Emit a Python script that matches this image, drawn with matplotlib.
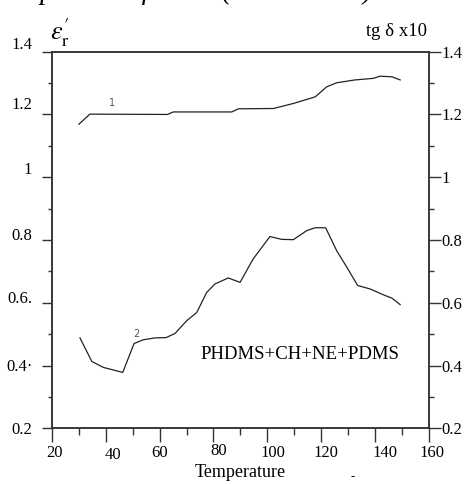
import matplotlib
matplotlib.use("Agg")
import matplotlib.pyplot as plt
import matplotlib.transforms as mtransforms

plt.rcParams['font.family'] = ['Liberation Serif', 'DejaVu Serif']
plt.rcParams['mathtext.fontset'] = 'stix'

# curve 1: eps'_r
temp1 = [30.0, 34.1, 62.9, 65.1, 86.8, 89.3, 102.3, 109.7, 117.8, 122.1,
         125.8, 132.6, 139.4, 141.9, 146.3, 149.4]
eps1 = [1.169, 1.201, 1.200, 1.208, 1.208, 1.218, 1.219, 1.235, 1.256, 1.288,
        1.301, 1.310, 1.315, 1.322, 1.320, 1.310]

# curve 2: tg delta x10
temp2 = [30.4, 34.8, 39.1, 46.3, 50.5, 53.9, 58.3, 62.4, 65.7, 70.1, 73.8,
         77.5, 80.6, 85.5, 89.9, 94.8, 101.0, 105.4, 109.7, 114.7, 117.8,
         121.7, 125.8, 129.6, 133.6, 138.2, 143.8, 146.3, 149.4]
tgd2 = [0.488, 0.413, 0.394, 0.378, 0.470, 0.482, 0.488, 0.489, 0.502, 0.543,
        0.569, 0.633, 0.660, 0.679, 0.665, 0.740, 0.811, 0.802, 0.801, 0.830,
        0.839, 0.839, 0.766, 0.713, 0.655, 0.644, 0.623, 0.615, 0.594]

yticks = [0.2, 0.4, 0.6, 0.8, 1.0, 1.2, 1.4]
yticklabels_left = ['0.2', '0.4·', '0.6.', '0.8', '1', '1.2', '1.4']
yticklabels_right = ['0.2', '0.4', '0.6', '0.8', '1', '1.2', '1.4']
xticks = [20, 40, 60, 80, 100, 120, 140, 160]

# small shifts of the scanned tick labels (pixels)
left_dy = [0, 1, 6, 6, 9, 11, 9]
bottom_dx = [3, 7, 0, 5, 6, 5, 10, 3]
bottom_dy = [0, -2, 0, 2, 0, 0, 0, 0]

fig = plt.figure(figsize=(4.7, 4.84), dpi=100)
ax = fig.add_axes([0.1106, 0.1151, 0.8015, 0.7781])
ax2 = ax.twinx()

lc = '#222222'
ax.plot(temp1, eps1, color=lc, lw=0.9)
ax.plot(temp2, tgd2, color=lc, lw=0.9)

ax.set_xlim(20, 160)
ax.set_ylim(0.2, 1.4)
ax2.set_ylim(0.2, 1.4)

ax.set_xticks(xticks)
ax.set_xticks(range(30, 160, 20), minor=True)
ax.set_xticklabels([str(v) for v in xticks])
ax.set_yticks(yticks)
ax.set_yticks([0.3, 0.5, 0.7, 0.9, 1.1, 1.3], minor=True)
ax.set_yticklabels(yticklabels_left)
ax2.set_yticks(yticks)
ax2.set_yticks([0.3, 0.5, 0.7, 0.9, 1.1, 1.3], minor=True)
ax2.set_yticklabels(yticklabels_right)

ax.tick_params(axis='y', which='major', direction='out', length=7.2, width=1,
               pad=7, labelsize=12, color='#333333')
ax.tick_params(axis='y', which='minor', direction='out', length=3, width=1,
               color='#333333')
ax.tick_params(axis='x', which='major', direction='out', length=10, width=1,
               pad=2, labelsize=12, color='#333333')
ax.tick_params(axis='x', which='minor', direction='out', length=5, width=1,
               color='#333333')
ax2.tick_params(axis='y', which='major', direction='out', length=8.6, width=1,
                pad=0.7, labelsize=12, color='#333333')
ax2.tick_params(axis='y', which='minor', direction='out', length=3.6, width=1,
                color='#333333')

for lab, dy in zip(ax.get_yticklabels(), left_dy):
    lab.set_transform(lab.get_transform() +
                      mtransforms.ScaledTranslation(0, dy / 100, fig.dpi_scale_trans))
for lab, dx, dy in zip(ax.get_xticklabels(), bottom_dx, bottom_dy):
    lab.set_transform(lab.get_transform() +
                      mtransforms.ScaledTranslation(dx / 100, dy / 100, fig.dpi_scale_trans))

for a in (ax, ax2):
    for s in a.spines.values():
        s.set_color('#333333')
        s.set_linewidth(1.1)

ax.set_xlabel('Temperature', fontsize=13, labelpad=1)

ax.text(42.4, 1.235, '1', fontsize=7, color='#555555', family='DejaVu Sans',
        ha='center', va='center')
ax.text(51.2, 0.500, '2', fontsize=7, color='#555555', family='DejaVu Sans',
        ha='center', va='center')
ax.text(75.0, 0.436, 'PHDMS+CH+NE+PDMS', fontsize=13.5, ha='left', va='center')

fig.text(50 / 470, 1 - 33 / 484, r"$\varepsilon_{\mathrm{r}}'$", fontsize=19,
         ha='left', va='center')
fig.text(427 / 470, 1 - 32 / 484, 'tg δ x10', fontsize=13.5, ha='right',
         va='center')
fig.text(353 / 470, 1 - 477 / 484, '-', fontsize=9, ha='center', va='center')
fig.text(0.0, 1 + 1 / 484, 'temperature for the (CH+PDMS) mixture', fontsize=20,
         style='italic', ha='left', va='baseline')

fig.savefig('out.png', dpi=100)
